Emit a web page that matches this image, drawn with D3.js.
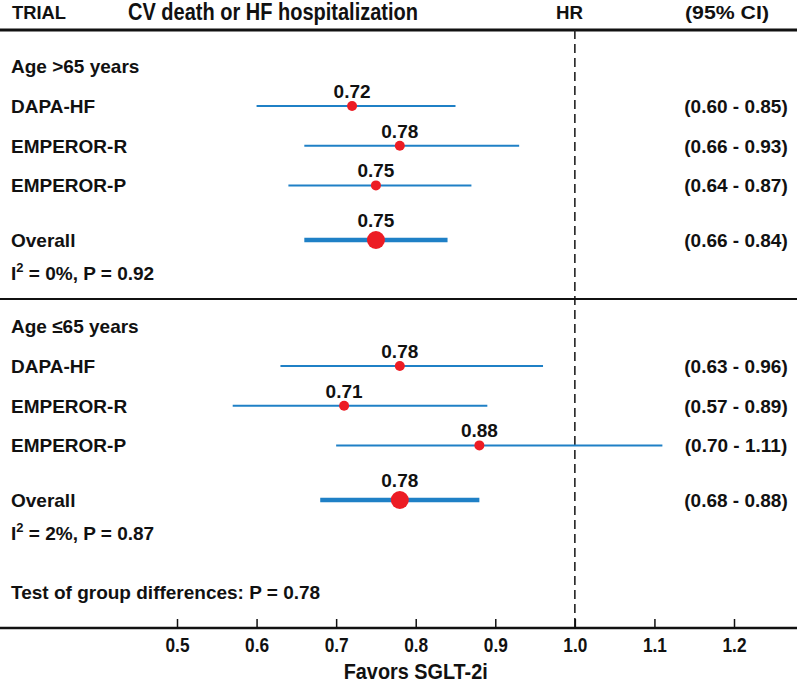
<!DOCTYPE html>
<html>
<head>
<meta charset="utf-8">
<script src="https://cdn.jsdelivr.net/npm/d3@7"></script>
<style>
  body { margin: 0; background: #fff; }
  svg text { font-family: "Liberation Sans", Arial, sans-serif; font-weight: bold; fill: #111; }
</style>
</head>
<body>
<svg id="chart" width="797" height="686"></svg>
<script>
// groups
const groupTitles = ['Age >65 years', 'Age \u226465 years'];
const trials = ['DAPA-HF', 'EMPEROR-R', 'EMPEROR-P'];
const hrOld = [0.72, 0.78, 0.75];
const loOld = [0.60, 0.66, 0.64];
const hiOld = [0.85, 0.93, 0.87];
const hrYoung = [0.78, 0.71, 0.88];
const loYoung = [0.63, 0.57, 0.70];
const hiYoung = [0.96, 0.89, 1.11];
const overallOld = [0.75, 0.66, 0.84];
const overallYoung = [0.78, 0.68, 0.88];
const hetero = [['0%', '0.92'], ['2%', '0.87']];
const tickValues = [0.5, 0.6, 0.7, 0.8, 0.9, 1.0, 1.1, 1.2];

const width = 797, height = 686;
const svg = d3.select('#chart');

const x = d3.scaleLinear().domain([0.5, 1.2]).range([177, 734]);

const blue = '#1f80c6';
const red = '#ec1c24';
const axisY = 628;

// header (narrow face in the original, squeeze a bit)
svg.append('text').attr('x', 12).attr('y', 19)
  .style('font-size', '19px').attr('textLength', 54).attr('lengthAdjust', 'spacingAndGlyphs')
  .text('TRIAL');
svg.append('text').attr('x', 128).attr('y', 20)
  .style('font-size', '23px').attr('textLength', 290).attr('lengthAdjust', 'spacingAndGlyphs')
  .text('CV death or HF hospitalization');
svg.append('text').attr('x', 556).attr('y', 19)
  .style('font-size', '19px').attr('textLength', 27).attr('lengthAdjust', 'spacingAndGlyphs')
  .text('HR');
svg.append('text').attr('x', 685).attr('y', 19)
  .style('font-size', '19px').attr('textLength', 84).attr('lengthAdjust', 'spacingAndGlyphs')
  .text('(95% CI)');

svg.append('line').attr('x1', 0).attr('x2', width).attr('y1', 30).attr('y2', 30)
  .attr('stroke', '#111').attr('stroke-width', 3);

// reference line at HR = 1
svg.append('line')
  .attr('x1', x(1)).attr('x2', x(1)).attr('y1', 30).attr('y2', axisY)
  .attr('stroke', '#222').attr('stroke-width', 1.6).attr('stroke-dasharray', '9,5');

const groups = [
  { title: groupTitles[0], hr: hrOld, lo: loOld, hi: hiOld, overall: overallOld, het: hetero[0], top: 66 },
  { title: groupTitles[1], hr: hrYoung, lo: loYoung, hi: hiYoung, overall: overallYoung, het: hetero[1], top: 326 }
];

const fmt = d3.format('.2f');

groups.forEach(g => {
  const g0 = svg.append('g');
  g0.append('text').attr('x', 11).attr('y', g.top + 7).style('font-size', '19px').text(g.title);

  const rows = trials.map((t, i) => ({ name: t, hr: g.hr[i], lo: g.lo[i], hi: g.hi[i], y: g.top + 40 + i * 39.7, big: false }));
  rows.push({ name: 'Overall', hr: g.overall[0], lo: g.overall[1], hi: g.overall[2], y: g.top + 174, big: true });

  const r = g0.selectAll('.row').data(rows).enter().append('g').attr('class', 'row');

  r.append('text').attr('x', 11).attr('y', d => d.y + 7).style('font-size', '19px').text(d => d.name);

  r.append('line')
    .attr('x1', d => x(d.lo)).attr('x2', d => x(d.hi))
    .attr('y1', d => d.y).attr('y2', d => d.y)
    .attr('stroke', blue).attr('stroke-width', d => d.big ? 4.5 : 2);

  r.append('circle')
    .attr('cx', d => x(d.hr)).attr('cy', d => d.y)
    .attr('r', d => d.big ? 9 : 5)
    .attr('fill', red);

  r.append('text')
    .attr('x', d => x(d.hr)).attr('y', d => d.y - (d.big ? 13 : 8))
    .attr('text-anchor', 'middle').style('font-size', '19px')
    .text(d => fmt(d.hr));

  r.append('text')
    .attr('x', 736).attr('y', d => d.y + 7).attr('text-anchor', 'middle')
    .style('font-size', '19px')
    .text(d => `(${fmt(d.lo)} - ${fmt(d.hi)})`);

  const het = g0.append('text').attr('x', 11).attr('y', g.top + 214).style('font-size', '19px');
  het.append('tspan').text('I');
  het.append('tspan').attr('dy', -8).style('font-size', '13px').text('2');
  het.append('tspan').attr('dy', 8).text(` = ${g.het[0]}, P = ${g.het[1]}`);
});

svg.append('line').attr('x1', 0).attr('x2', width).attr('y1', 299).attr('y2', 299)
  .attr('stroke', '#111').attr('stroke-width', 2);

svg.append('text').attr('x', 11).attr('y', 599).style('font-size', '19px')
  .text('Test of group differences: P = 0.78');

// axis
svg.append('line').attr('x1', 0).attr('x2', width).attr('y1', axisY).attr('y2', axisY)
  .attr('stroke', '#111').attr('stroke-width', 2.5);

const axis = svg.append('g')
  .attr('transform', `translate(0, ${axisY})`)
  .call(d3.axisBottom(x).tickValues(tickValues).tickFormat(d3.format('.1f'))
    .tickSizeInner(-9).tickSizeOuter(0).tickPadding(10));
axis.select('.domain').remove();
axis.selectAll('.tick line').attr('stroke', '#111').attr('stroke-width', 1.5);
axis.selectAll('.tick text')
  .style('font-size', '20px').style('font-weight', 'bold')
  .style('font-family', '"Liberation Sans", Arial, sans-serif').attr('fill', '#111')
  .attr('textLength', 24).attr('lengthAdjust', 'spacingAndGlyphs');

svg.append('text').attr('x', x(0.8)).attr('y', 679)
  .attr('text-anchor', 'middle').style('font-size', '22px')
  .attr('textLength', 144).attr('lengthAdjust', 'spacingAndGlyphs')
  .text('Favors SGLT-2i');
</script>
</body>
</html>
